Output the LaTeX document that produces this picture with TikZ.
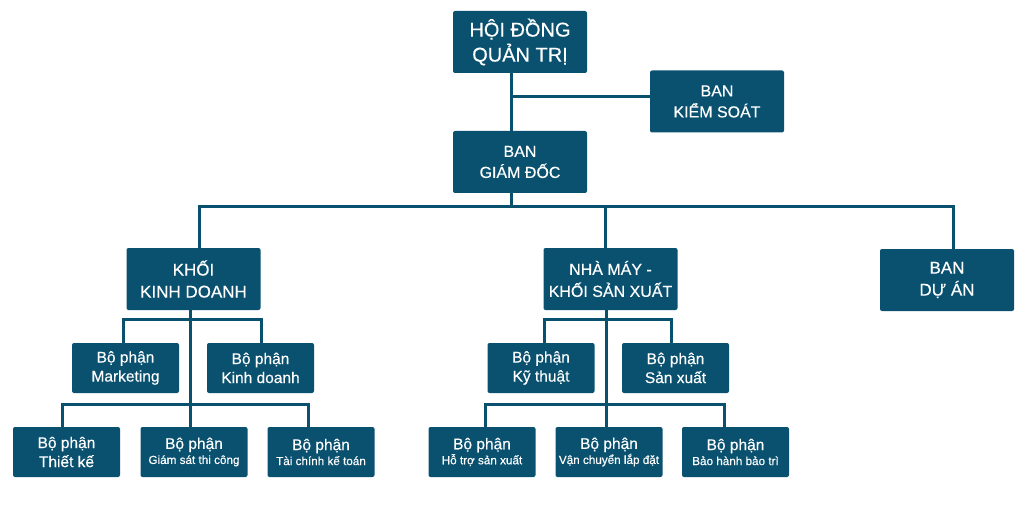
\documentclass[tikz,border=0pt]{standalone}
\usepackage{fontspec}
\setmainfont{Liberation Sans}[BoldFont=Liberation Sans, BoldFeatures={FakeBold=0.35}]
\usepackage{tikz}
\usetikzlibrary{calc,positioning}
\definecolor{boxteal}{RGB}{10,81,112}
\tikzstyle{bigbox}  = [rectangle, rounded corners=2pt, fill=boxteal, text=white, minimum width=134pt, minimum height=62pt, inner sep=0pt, align=center, font=\fontsize{17}{22}\selectfont\bfseries]
\tikzstyle{subbox}  = [rectangle, rounded corners=2pt, fill=boxteal, text=white, minimum width=107pt, minimum height=50pt, inner sep=0pt, align=center, font=\fontsize{15.5}{19}\selectfont\bfseries]
\tikzstyle{link}    = [draw=boxteal, line width=3pt]
\newcommand{\smalltxt}{\fontsize{11.7}{15}\selectfont}

\begin{document}
\begin{tikzpicture}[x=1pt,y=-1pt]
		\useasboundingbox (0,0) rectangle (1024,529);

		\node[bigbox, font=\fontsize{20}{25}\selectfont\bfseries] (hdqt) at (520,42) {HỘI ĐỒNG\\QUẢN TRỊ};
		\node[bigbox, font=\fontsize{16}{21}\selectfont\bfseries] (bks) at (717,101.5) {BAN\\KIỂM SOÁT};
		\node[bigbox, font=\fontsize{16}{21}\selectfont\bfseries] (bgd) at (520,162) {BAN\\GIÁM ĐỐC};

		\node[bigbox] (kkd) at (193.5,279) {KHỐI\\KINH DOANH};
		\node[bigbox, font=\fontsize{16}{22}\selectfont\bfseries] (nm)  at (610.5,279) {NHÀ MÁY -\\KHỐI SẢN XUẤT};
		\node[bigbox] (bda) at (947,280) {BAN\\DỰ ÁN};

		\node[subbox] (mkt) at (125.5,368) {Bộ phận\\Marketing};
		\node[subbox] (kd)  at (260.5,368) {Bộ phận\\Kinh doanh};
		\node[subbox] (tk)  at (66.5,452)  {Bộ phận\\Thiết kế};
		\node[subbox] (gs)  at (194,452)   {Bộ phận\\[-4pt]\smalltxt Giám sát thi công};
		\node[subbox] (tc)  at (321,452)   {Bộ phận\\[-4pt]\smalltxt Tài chính kế toán};

		\node[subbox] (kt)  at (541,368)   {Bộ phận\\Kỹ thuật};
		\node[subbox] (sx)  at (675.5,368) {Bộ phận\\Sản xuất};
		\node[subbox] (ht)  at (482,452)   {Bộ phận\\[-4pt]\smalltxt Hỗ trợ sản xuất};
		\node[subbox] (vc)  at (609,452)   {Bộ phận\\[-4pt]\smalltxt Vận chuyển lắp đặt};
		\node[subbox] (bh)  at (735.5,452) {Bộ phận\\[-4pt]\smalltxt Bảo hành bảo trì};

		\coordinate (ksjoin) at (511,97);
		\coordinate (bus) at (511,207);

		\draw[link] ([xshift=-9pt]hdqt.south) -- ([xshift=-9pt]bgd.north);
		\draw[link] (ksjoin) -- (ksjoin -| bks.west);
		\draw[link] ([xshift=-9pt]bgd.south) -- (bus);
		\draw[link] ([xshift=5.5pt]kkd.north) |- (bus) -| ([xshift=6pt]bda.north);
		\draw[link] ([xshift=-5.5pt]nm.north) -- ([xshift=-5.5pt]nm.north |- bus);

		\draw[link] ([xshift=-3.5pt]kkd.south) -- ([xshift=-4pt]gs.north);
		\draw[link] ([xshift=-2.5pt]mkt.north) -- ++(0,-23) -| ([xshift=0.5pt]kd.north);
		\draw[link] ([xshift=-4.5pt]tk.north) -- ++(0,-22) -| ([xshift=-13pt]tc.north);

		\draw[link] ([xshift=-4.5pt]nm.south) -- ([xshift=-3pt]vc.north);
		\draw[link] ([xshift=3pt]kt.north) -- ++(0,-23) -| ([xshift=-4.5pt]sx.north);
		\draw[link] ([xshift=3pt]ht.north) -- ++(0,-22) -| ([xshift=-11.5pt]bh.north);
	\end{tikzpicture}
\end{document}
